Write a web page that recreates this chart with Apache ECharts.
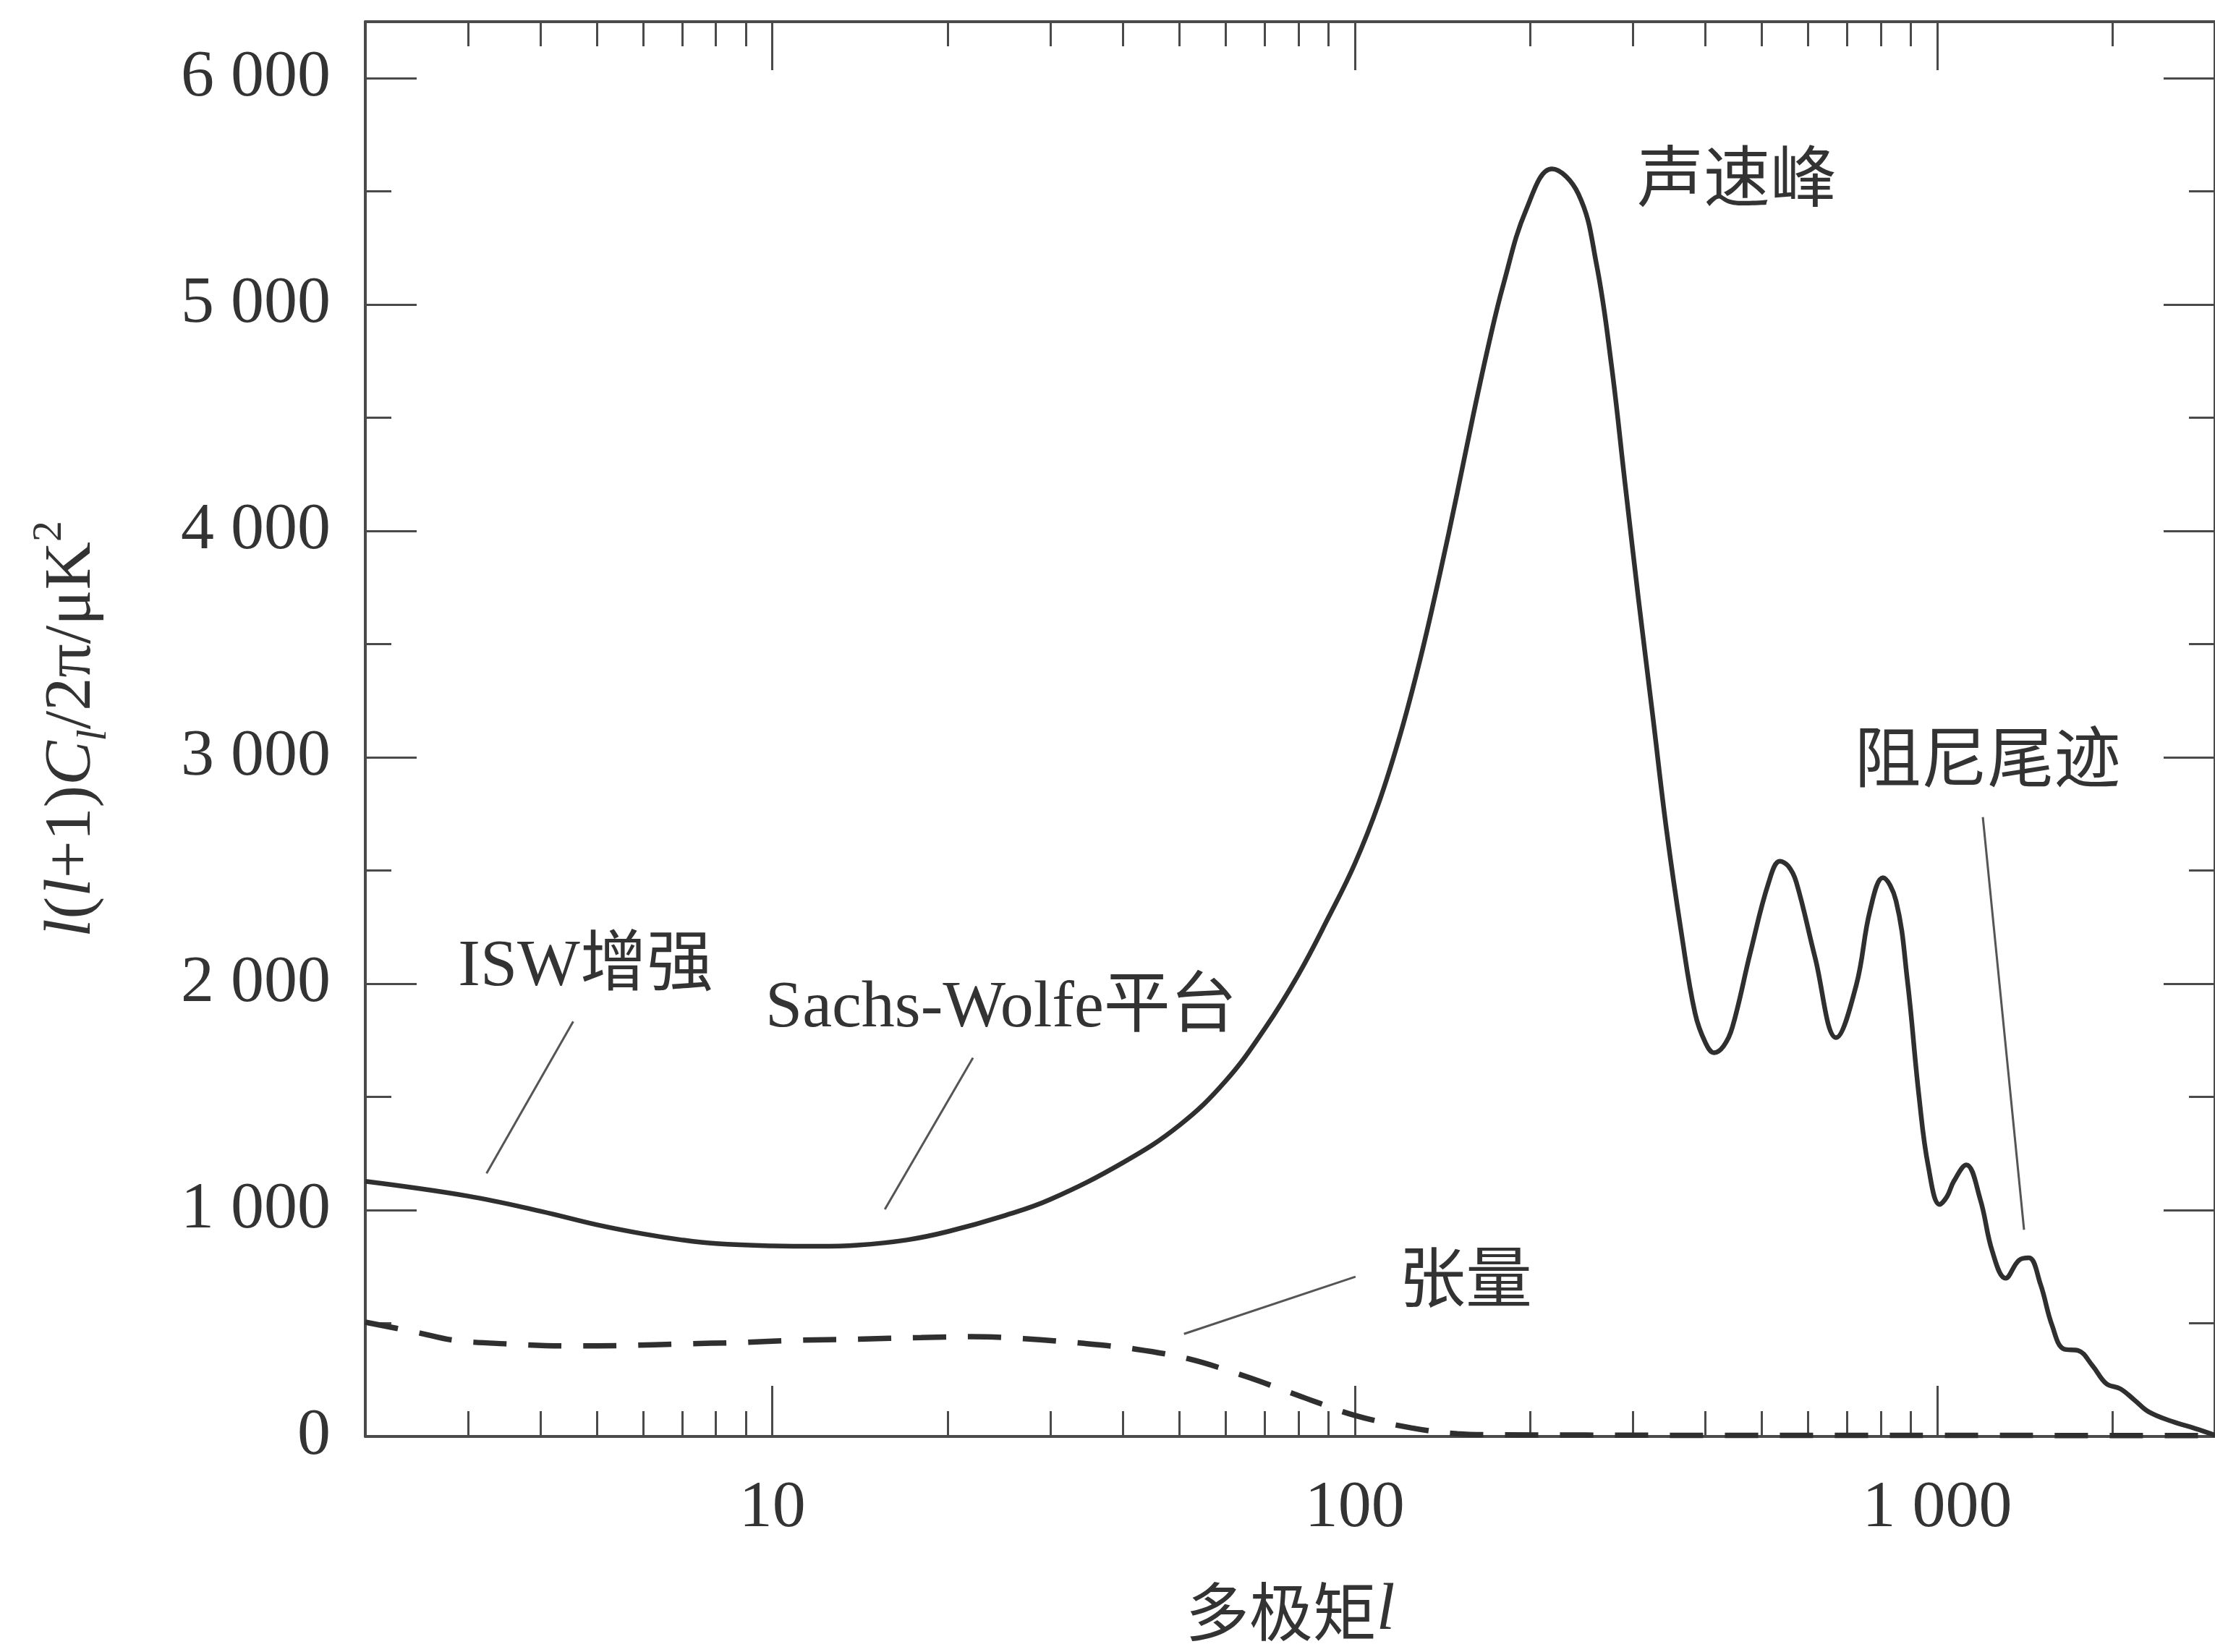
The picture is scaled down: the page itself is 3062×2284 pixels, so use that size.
<!DOCTYPE html>
<html>
<head>
<meta charset="utf-8">
<script src="https://cdn.jsdelivr.net/npm/echarts@6/dist/echarts.min.js"></script>
<style>
  html, body { margin: 0; padding: 0; background: #fff; overflow: hidden; }
  #chart { width: 3062px; height: 2284px; }
</style>
</head>
<body>
<div id="chart"></div>
<script>
// CMB temperature power spectrum l(l+1)C_l/2π (μK²) against multipole l
const scalarL = [2, 3, 4, 5, 6, 7, 8, 10, 12, 14, 17, 20, 25, 30, 40, 50, 60, 70, 80, 90,
  100, 110, 120, 130, 140, 150, 160, 170, 180, 197, 218, 242, 260, 276, 291, 307, 325, 343, 364, 384,
  400, 414, 430, 445, 478, 514, 537, 555, 573, 617, 671, 726, 767, 807, 850, 889, 931, 966,
  1010, 1040, 1068, 1122, 1186, 1244, 1311, 1383, 1437, 1504, 1576, 1652, 1745, 1848, 1952,
  2062, 2184, 2308, 2528, 2776, 3000];
const scalarPower = [1127, 1062, 995, 935, 895, 868, 852, 842, 840, 845, 868, 905, 975, 1047,
  1210, 1375, 1570, 1800, 2040, 2290, 2530, 2800, 3110, 3450, 3810, 4170, 4520, 4830, 5090,
  5420, 5600, 5490, 5180, 4730, 4215, 3700, 3180, 2680, 2220, 1870, 1740, 1695, 1725, 1807,
  2139, 2449, 2541, 2520, 2449, 2117, 1762, 1992, 2324, 2468, 2366, 2015, 1501, 1191, 1025,
  1060, 1127, 1200, 1047, 817, 699, 779, 789, 674, 489, 386, 380, 313, 233, 211, 160, 109,
  67, 35, 6];

// tensor (gravitational-wave) contribution
const tensorL = [2, 2.45, 2.84, 3.5, 4.5, 5.6, 7, 8.8, 11, 14, 18, 22, 27, 34, 42, 52, 65, 81,
  100, 125, 150, 180, 250, 400, 700, 1000, 2000, 3000];
const tensorPower = [505, 460, 425, 409, 400, 402, 409, 415, 425, 430, 437, 441, 432, 412, 386,
  342, 265, 176, 93, 38, 12, 7, 6, 5, 5, 5, 4, 4];

// axis ticks
const xMajorTicks = [10, 100, 1000];
const xMinorTicks = [3, 4, 5, 6, 7, 8, 9, 20, 30, 40, 50, 60, 70, 80, 90,
  200, 300, 400, 500, 600, 700, 800, 900, 2000];
const yMajorTicks = [0, 1000, 2000, 3000, 4000, 5000, 6000];
const yMinorTicks = [500, 1500, 2500, 3500, 4500, 5500];

// callouts: text anchor and leader line, in (l, power) coordinates
const annotations = [
  { text: 'ISW增强', at: [4.78, 2070], line: [[4.55, 1833], [3.23, 1162]] },
  { text: 'Sachs-Wolfe平台', at: [24.7, 1890], line: [[22.1, 1673], [15.6, 1003]] },
  { text: '声速峰', at: [453, 5535], line: null },
  { text: '阻尼尾迹', at: [1220, 2968], line: [[1198, 2736], [1410, 913]] },
  { text: '张量', at: [155, 670], line: [[100.3, 706], [50.9, 453]] }
];

const SERIF = "'Liberation Serif', 'Noto Sans CJK SC', serif";
const CJK = "'Noto Sans CJK SC', sans-serif";
const INK = '#333333';
const AXIS = '#4a4a4a';

const fmtThousands = v => {
  if (v === 0) return '0';
  const s = String(v);
  return s.length > 3 ? s.slice(0, s.length - 3) + ' ' + s.slice(-3) : s;
};

const logBase = { type: 'log', logBase: 10, min: 2, max: 3000, gridIndex: 0, splitLine: { show: false } };
const valBase = { type: 'value', min: 0, max: 6250, interval: 1000, gridIndex: 0, splitLine: { show: false } };
const axisLine = { show: true, onZero: false, lineStyle: { color: AXIS, width: 4 } };
const tick = (vals, len) => ({ show: true, inside: true, length: len, customValues: vals, lineStyle: { color: AXIS, width: 3 } });

const chart = echarts.init(document.getElementById('chart'), null, { renderer: 'canvas' });

chart.setOption({
  animation: false,
  backgroundColor: '#ffffff',
  grid: { left: 505, right: -6, top: 30, bottom: 298, containLabel: false },
  xAxis: [
    Object.assign({}, logBase, {
      position: 'bottom',
      axisLine: axisLine,
      axisTick: tick(xMajorTicks, 70),
      axisLabel: {
        customValues: xMajorTicks, formatter: fmtThousands, margin: 54,
        fontFamily: SERIF, fontSize: 92, color: INK
      },
      name: '{c|多极矩}{i|l}',
      nameLocation: 'middle',
      nameGap: 196,
      nameTextStyle: {
        rich: {
          c: { fontFamily: CJK, fontSize: 88, color: INK },
          i: { fontFamily: SERIF, fontStyle: 'italic', fontSize: 92, color: INK }
        }
      }
    }),
    Object.assign({}, logBase, {
      position: 'bottom', axisLine: { show: false, onZero: false },
      axisTick: tick(xMinorTicks, 35), axisLabel: { show: false }
    }),
    Object.assign({}, logBase, {
      position: 'top', axisLine: axisLine,
      axisTick: tick(xMajorTicks, 67), axisLabel: { show: false }
    }),
    Object.assign({}, logBase, {
      position: 'top', axisLine: { show: false, onZero: false },
      axisTick: tick(xMinorTicks, 34), axisLabel: { show: false }
    })
  ],
  yAxis: [
    Object.assign({}, valBase, {
      position: 'left',
      axisLine: axisLine,
      axisTick: tick(yMajorTicks, 71),
      axisLabel: {
        customValues: yMajorTicks, formatter: fmtThousands, margin: 48,
        fontFamily: SERIF, fontSize: 92, color: INK
      },
      name: '{i|l}{n|(}{i|l}{n|+1)}{i|C}{s|l}{n|/2π/μK}{p|2}',
      nameLocation: 'middle',
      nameGap: 345,
      nameTextStyle: {
        rich: {
          i: { fontFamily: SERIF, fontStyle: 'italic', fontSize: 92, lineHeight: 120, color: INK },
          n: { fontFamily: SERIF, fontSize: 92, lineHeight: 120, color: INK },
          s: { fontFamily: SERIF, fontStyle: 'italic', fontSize: 58, lineHeight: 58, verticalAlign: 'bottom', color: INK },
          p: { fontFamily: SERIF, fontSize: 58, lineHeight: 58, verticalAlign: 'top', color: INK }
        }
      }
    }),
    Object.assign({}, valBase, {
      position: 'left', axisLine: { show: false, onZero: false },
      axisTick: tick(yMinorTicks, 36), axisLabel: { show: false }
    }),
    Object.assign({}, valBase, {
      position: 'right', axisLine: axisLine,
      axisTick: tick(yMajorTicks, 71), axisLabel: { show: false }
    }),
    Object.assign({}, valBase, {
      position: 'right', axisLine: { show: false, onZero: false },
      axisTick: tick(yMinorTicks, 36), axisLabel: { show: false }
    })
  ],
  series: [
    {
      name: 'scalar', type: 'line', xAxisIndex: 0, yAxisIndex: 0,
      data: scalarL.map((l, i) => [l, scalarPower[i]]),
      showSymbol: false, smooth: 0.4, z: 4,
      lineStyle: { color: '#2f2f2f', width: 6.5 }
    },
    {
      name: 'tensor', type: 'line', xAxisIndex: 0, yAxisIndex: 0,
      data: tensorL.map((l, i) => [l, tensorPower[i]]),
      showSymbol: false, smooth: 0.35, z: 4,
      lineStyle: { color: '#2f2f2f', width: 7.5, type: [46, 30] }
    },
    {
      name: 'notes', type: 'custom', xAxisIndex: 0, yAxisIndex: 0, clip: false, z: 5,
      data: annotations.map(a => a.at),
      renderItem: (params, api) => {
        const a = annotations[params.dataIndex];
        const p = api.coord(a.at);
        const children = [{
          type: 'text',
          style: {
            text: a.text, x: p[0], y: p[1], align: 'center', verticalAlign: 'middle',
            fontSize: 92, fontFamily: SERIF, fill: INK
          }
        }];
        if (a.line) {
          const s = api.coord(a.line[0]);
          const e = api.coord(a.line[1]);
          children.push({
            type: 'line',
            shape: { x1: s[0], y1: s[1], x2: e[0], y2: e[1] },
            style: { stroke: '#555555', lineWidth: 3 }
          });
        }
        return { type: 'group', children: children };
      }
    }
  ]
});
</script>
</body>
</html>
